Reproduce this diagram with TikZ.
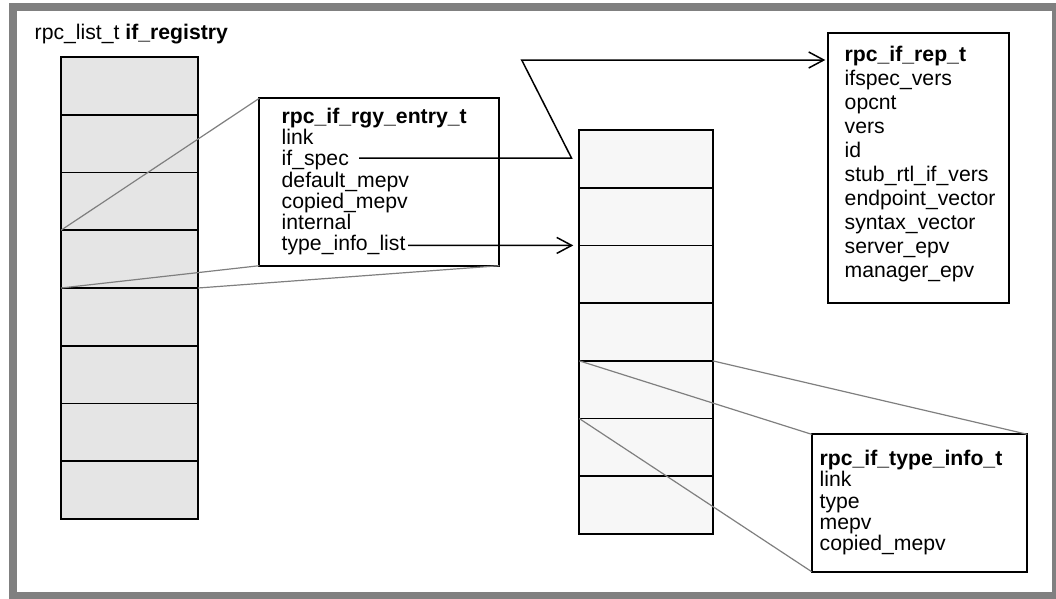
\documentclass[tikz,border=0pt]{standalone}
\usepackage{fontspec}
\setmainfont{Liberation Sans}
\usetikzlibrary{arrows.meta}
\definecolor{frameg}{HTML}{808080}
\definecolor{lcell}{HTML}{E5E5E5}
\definecolor{vcell}{HTML}{F7F7F7}
\definecolor{zoomg}{HTML}{7F7F7F}
\tikzset{
  lcellbox/.style={draw=black, line width=1.8pt, fill=lcell, minimum width=137pt, minimum height=57.75pt, inner sep=0pt, outer sep=0pt},
  vcellbox/.style={draw=black, line width=1.8pt, fill=vcell, minimum width=133.4pt, minimum height=57.71pt, inner sep=0pt, outer sep=0pt},
  structbox/.style={draw=black, line width=1.8pt, fill=white, inner sep=0pt, outer sep=0pt},
  fieldtext/.style={anchor=base west, align=left, inner sep=0pt, font=\fontsize{21.2}{21.25}\selectfont},
  reptext/.style={anchor=base west, align=left, inner sep=0pt, font=\fontsize{21.2}{24.0}\selectfont},
  zoomline/.style={draw=zoomg, line width=1.2pt},
  ptrline/.style={draw=black, line width=1.5pt},
  ptrtip/.style={-{Straight Barb[length=15pt, width=16pt, line width=1.5pt]}},
}
\begin{document}
\begin{tikzpicture}[x=1pt, y=-1pt]
\useasboundingbox (0,0) rectangle (1056,598);
% outer frame
\draw[frameg, line width=8pt] (13,7) rectangle (1056,596);

% title of list
\node[fieldtext] (reglabel) at (34.5,39.3) {rpc\_list\_t \textbf{if\_registry}};

% left column (if_registry)
\foreach \i in {1,...,8} {
  \node[lcellbox] (L\i) at (129.5, {57 + (\i-0.5)*57.75}) {};
}

% vector column
\foreach \i in {1,...,7} {
  \node[vcellbox] (V\i) at (646, {130 + (\i-0.5)*57.71}) {};
}

% struct boxes
\node[structbox, minimum width=240pt, minimum height=167.4pt] (entry) at (379.3,182) {};
\node[structbox, minimum width=181pt, minimum height=270pt] (rep) at (918.8,167.7) {};
\node[structbox, minimum width=215.6pt, minimum height=137.4pt] (tinfo) at (919.5,503) {};

% texts (base anchor = baseline of the last line)
\node[fieldtext] (entrytext) at (281.5,250.8) {\textbf{rpc\_if\_rgy\_entry\_t}\\link\\if\_spec\\default\_mepv\\copied\_mepv\\internal\\type\_info\_list};
\node[reptext] (reptxt) at (844.5,277) {\textbf{rpc\_if\_rep\_t}\\ifspec\_vers\\opcnt\\vers\\id\\stub\_rtl\_if\_vers\\endpoint\_vector\\syntax\_vector\\server\_epv\\manager\_epv};
\node[fieldtext] (tinfotext) at (819.5,550.7) {\textbf{rpc\_if\_type\_info\_t}\\link\\type\\mepv\\copied\_mepv};

% zoom lines
\draw[zoomline] (L4.north west) -- (entry.north west);
\draw[zoomline] (L5.north west) -- (entry.south west);
\draw[zoomline] (L5.north east) -- (entry.south east);
\draw[zoomline] (V5.north west) -- (tinfo.north west);
\draw[zoomline] (V5.north east) -- (tinfo.north east);
\draw[zoomline] (V6.north west) -- (tinfo.south west);

% pointers
\coordinate (ifspecend) at (359,158);
\coordinate (bendlow) at (571.5,158);
\coordinate (bendhigh) at (521.7,60);
\coordinate (reprow) at (0,60);
\draw[ptrline, ptrtip, shorten >=3pt] (ifspecend) -- (bendlow) -- (bendhigh) -- (rep.west |- reprow);
\coordinate (tilend) at (408,245.4);
\draw[ptrline, ptrtip, shorten >=6pt] (tilend) -- (V3.north west);
\end{tikzpicture}
\end{document}
